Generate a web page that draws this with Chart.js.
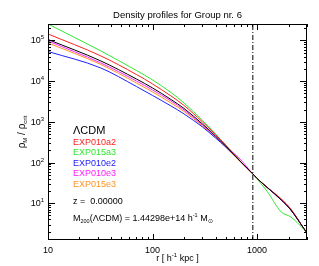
<!DOCTYPE html>
<html>
<head>
<meta charset="utf-8">
<script src="https://cdn.jsdelivr.net/npm/chart.js@4.4.0/dist/chart.umd.min.js"></script>
<style>
  html, body { margin: 0; padding: 0; background: #fff; }
  canvas { display: block; }
</style>
</head>
<body>
<canvas id="profileChart" width="319" height="266"></canvas>
<script>
// Radii (h^-1 kpc) and density profiles rho_M / rho_crit
const radii     = [10, 32, 70, 100, 150, 200, 300, 400, 500, 700, 910, 1000, 1250, 1700, 2100, 2800, 3000];
const lcdm      = [1.058e5, 3.14e4, 1.133e4, 6.81e3, 3.55e3, 2.135e3, 888, 450, 256, 103.4, 52.5, 40.7, 24.4, 12.05, 6.85, 2.40, 1.86];
const exp010a2  = [1.444e5, 4.17e4, 1.462e4, 8.54e3, 4.33e3, 2.53e3, 995, 490, 271, 103.4, 52.5, 40.7, 24.4, 12.75, 7.25, 2.40, 1.86];
const exp015a3  = [2.54e5, 5.53e4, 1.833e4, 1.071e4, 5.28e3, 2.91e3, 1082, 504, 271, 103.4, 52.5, 39.6, 19.4, 6.11, 4.61, 2.27, 1.86];
const exp010e2  = [5.36e4, 2.11e4, 7.41e3, 4.45e3, 2.46e3, 1.565e3, 749, 402, 242, 103.4, 52.5, 40.7, 24.4, 12.05, 6.85, 2.40, 1.86];
const exp010e3  = [9.72e4, 2.80e4, 1.012e4, 6.08e3, 3.26e3, 1.962e3, 839, 437, 256, 115.8, 52.5, 40.7, 24.4, 12.4, 7.05, 2.40, 1.86];
const exp015e3  = [8.68e4, 2.57e4, 9.03e3, 5.43e3, 2.91e3, 1.80e3, 793, 414, 242, 100.5, 52.5, 40.7, 24.4, 12.75, 7.05, 2.40, 1.86];

const seriesNames = ['EXP010a2', 'EXP015a3', 'EXP010e2', 'EXP010e3', 'EXP015e3'];
const xTickLabels = ['10', '100', '1000'];
const yTickExponents = ['1', '2', '3', '4', '5'];
const r200 = 910;
const xRange = [10, 3000];
const yRange = [1.25, 2.54e5];

const colors = {
    lcdm: '#000000',
    EXP010a2: '#ff2020',
    EXP015a3: '#30e830',
    EXP010e2: '#2020ff',
    EXP010e3: '#ff20ff',
    EXP015e3: '#ff9428'
};

const FONT = '"Liberation Sans", Arial, Helvetica, sans-serif';

function toPoints(values) {
    return radii.map((r, i) => ({ x: r, y: values[i] }));
}

function lineSet(label, values, color) {
    return {
        label: label,
        data: toPoints(values),
        borderColor: color,
        borderWidth: 1,
        pointRadius: 0,
        fill: false,
        cubicInterpolationMode: 'monotone'
    };
}

// draw a run of text pieces (sub/superscripts) starting at x
function richText(ctx, parts, x, y, align) {
    let total = 0;
    parts.forEach(p => {
        ctx.font = p.size + 'px ' + FONT;
        p.w = ctx.measureText(p.t).width;
        total += p.w;
    });
    let cx = x;
    if (align === 'center') cx = x - total / 2;
    if (align === 'right') cx = x - total;
    parts.forEach(p => {
        ctx.font = p.size + 'px ' + FONT;
        ctx.fillStyle = p.color || ctx.fillStyle;
        ctx.fillText(p.t, cx, y + (p.dy || 0));
        cx += p.w;
    });
}

const idlFrame = {
    id: 'idlFrame',
    afterDraw(chart) {
        const ctx = chart.ctx;
        const area = chart.chartArea;
        const xs = chart.scales.x;
        const ys = chart.scales.y;
        ctx.save();
        ctx.strokeStyle = '#000';
        ctx.lineWidth = 1;
        ctx.strokeRect(Math.round(area.left) + 0.5, Math.round(area.top) + 0.5,
            Math.round(area.right - area.left) - 1, Math.round(area.bottom - area.top) - 1);

        // x ticks, inside on bottom and top
        ctx.beginPath();
        for (let dec = 10; dec <= 1000; dec *= 10) {
            for (let m = 1; m <= 9; m++) {
                const v = dec * m;
                if (v < xRange[0] || v > xRange[1]) continue;
                const px = Math.round(xs.getPixelForValue(v)) + 0.5;
                const len = m === 1 ? 6 : 3;
                ctx.moveTo(px, area.bottom);
                ctx.lineTo(px, area.bottom - len);
                ctx.moveTo(px, area.top);
                ctx.lineTo(px, area.top + len);
            }
        }
        // y ticks, inside on left and right
        for (let dec = 1; dec <= 1e5; dec *= 10) {
            for (let m = 1; m <= 9; m++) {
                const v = dec * m;
                if (v < yRange[0] || v > yRange[1]) continue;
                const py = Math.round(ys.getPixelForValue(v)) + 0.5;
                const len = m === 1 ? 7 : 3;
                ctx.moveTo(area.left, py);
                ctx.lineTo(area.left + len, py);
                ctx.moveTo(area.right, py);
                ctx.lineTo(area.right - len, py);
            }
        }
        ctx.stroke();

        ctx.fillStyle = '#000';
        ctx.textBaseline = 'alphabetic';

        // x tick labels
        ctx.font = '9px ' + FONT;
        ctx.textAlign = 'center';
        xTickLabels.forEach(t => {
            ctx.fillText(t, xs.getPixelForValue(Number(t)), area.bottom + 13);
        });
        ctx.textAlign = 'left';

        // y tick labels 10^n
        yTickExponents.forEach(e => {
            const py = ys.getPixelForValue(Math.pow(10, Number(e)));
            richText(ctx, [
                { t: '10', size: 9 },
                { t: e, size: 6, dy: -4 }
            ], 44, py + 3, 'right');
        });

        // title
        ctx.font = '9.5px ' + FONT;
        ctx.textAlign = 'center';
        ctx.fillText('Density profiles for Group nr. 6', (area.left + area.right) / 2, 18);
        ctx.textAlign = 'left';

        // x axis title
        richText(ctx, [
            { t: 'r [ h', size: 9 },
            { t: '-1', size: 6, dy: -4 },
            { t: ' kpc ]', size: 9 }
        ], (area.left + area.right) / 2, 261, 'center');

        // y axis title
        ctx.save();
        ctx.translate(25, (area.top + area.bottom) / 2);
        ctx.rotate(-Math.PI / 2);
        richText(ctx, [
            { t: 'ρ', size: 10 },
            { t: 'M', size: 6, dy: 2 },
            { t: ' / ρ', size: 10 },
            { t: 'crit', size: 6, dy: 2 }
        ], 0, 0, 'center');
        ctx.restore();

        // legend text
        const lx = 73;
        ctx.font = '11px ' + FONT;
        ctx.fillStyle = colors.lcdm;
        ctx.fillText('ΛCDM', lx, 134);
        ctx.font = '9px ' + FONT;
        seriesNames.forEach((name, i) => {
            ctx.fillStyle = colors[name];
            ctx.fillText(name, lx, 145 + i * 10.4);
        });

        ctx.fillStyle = '#000';
        ctx.fillText('z =  0.00000', lx, 204);
        richText(ctx, [
            { t: 'M', size: 9 },
            { t: '200', size: 5.5, dy: 2 },
            { t: '(ΛCDM) = 1.44298e+14 h', size: 9 },
            { t: '-1', size: 5.5, dy: -4 },
            { t: ' M', size: 9 },
            { t: '⊙', size: 6, dy: 2 }
        ], lx, 221, 'left');

        ctx.restore();
    }
};

new Chart(document.getElementById('profileChart'), {
    type: 'line',
    data: {
        datasets: [
            lineSet('ΛCDM', lcdm, colors.lcdm),
            lineSet('EXP010a2', exp010a2, colors.EXP010a2),
            lineSet('EXP015a3', exp015a3, colors.EXP015a3),
            lineSet('EXP010e2', exp010e2, colors.EXP010e2),
            lineSet('EXP010e3', exp010e3, colors.EXP010e3),
            lineSet('EXP015e3', exp015e3, colors.EXP015e3),
            {
                label: 'r200',
                data: [{ x: r200, y: yRange[0] }, { x: r200, y: yRange[1] }],
                borderColor: '#000',
                borderWidth: 1,
                borderDash: [5, 2, 1, 2],
                pointRadius: 0,
                fill: false
            }
        ]
    },
    options: {
        responsive: false,
        animation: false,
        layout: { padding: { left: 48, right: 12, top: 24, bottom: 26 } },
        plugins: {
            legend: { display: false },
            tooltip: { enabled: false }
        },
        scales: {
            x: { type: 'logarithmic', min: xRange[0], max: xRange[1], display: false },
            y: { type: 'logarithmic', min: yRange[0], max: yRange[1], display: false }
        }
    },
    plugins: [idlFrame]
});
</script>
</body>
</html>
